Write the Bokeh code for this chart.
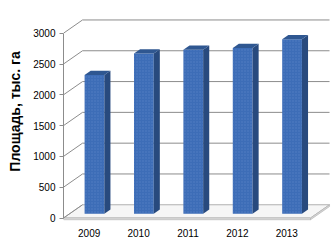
from bokeh.plotting import figure
from bokeh.models import Range1d, FixedTicker
from bokeh.embed import file_html
from bokeh.resources import INLINE

# ---- data ----
years = [2009, 2010, 2011, 2012, 2013]
area = [2250, 2600, 2660, 2690, 2830]
y_ticks = [0, 500, 1000, 1500, 2000, 2500, 3000]
y_label = "Площадь, тыс. га"

# ---- 3D geometry (in data units) ----
n = len(years)
DX = 0.385          # depth shift along x (category units)
DY = 215            # depth shift along y (value units)
BAR_W = 0.40        # bar width
D0, D1 = 0.33, 0.65  # bar depth start/end as fraction of floor depth

p = figure(width=335, height=249, output_backend="svg", toolbar_location=None,
           x_range=Range1d(0, 5.506), y_range=Range1d(-73, 3531),
           min_border_left=63, min_border_right=0, min_border_top=0,
           min_border_bottom=27)
p.outline_line_color = None
p.grid.visible = False
p.background_fill_color = "white"
p.border_fill_color = "white"

grid_col = "#8c8c8c"

# floor
p.patch([0, n, n + DX, DX], [0, 0, DY, DY], fill_color="#f6f6f6",
        line_color="#b0b0b0", line_width=1)
p.quad(left=[0], right=[n], bottom=[-28], top=[0], fill_color="#e2e2e2",
       line_color="#b4b4b4", line_width=0.7)
p.patch([n, n + DX, n + DX, n], [0, DY, DY - 28, -28], fill_color="#d8d8d8",
        line_color="#b4b4b4", line_width=0.7)

# back wall grid lines + left wall diagonals
for t in y_ticks:
    if t > 0:
        p.line([DX, n + DX], [t + DY, t + DY], line_color=grid_col, line_width=1)
    p.line([0, DX], [t, t + DY], line_color=grid_col, line_width=1)

# bars
front_col = "#3d6db7"
side_col = "#284a7e"
top_col = "#2f5791"
for i, v in enumerate(area):
    c = i + 0.5
    xl = c - BAR_W / 2 + D0 * DX
    xr = c + BAR_W / 2 + D0 * DX
    yb = D0 * DY
    yt = v + D0 * DY
    ddx = (D1 - D0) * DX
    ddy = (D1 - D0) * DY
    p.quad(left=[xl], right=[xr], bottom=[yb], top=[yt], fill_color=front_col,
           line_color=None, hatch_pattern="dot", hatch_color="#6b93d2",
           hatch_scale=3, hatch_weight=0.5, hatch_alpha=0.45)
    p.patch([xr, xr + ddx, xr + ddx, xr], [yb, yb + ddy, yt + ddy, yt],
            fill_color=side_col, line_color=None)
    p.patch([xl, xr, xr + ddx, xl + ddx], [yt, yt, yt + ddy, yt + ddy],
            fill_color=top_col, line_color=None)

# y axis
ya = p.yaxis[0]
ya.bounds = (0, 3000)
ya.ticker = FixedTicker(ticks=y_ticks)
ya.minor_tick_line_color = None
ya.major_tick_in = 0
ya.major_tick_out = 4
ya.axis_line_color = grid_col
ya.major_tick_line_color = grid_col
ya.major_label_text_font = "Liberation Sans"
ya.major_label_text_font_size = "10px"
ya.major_label_text_color = "black"
ya.major_label_standoff = 4
ya.axis_label = y_label
ya.axis_label_text_font = "Liberation Sans"
ya.axis_label_text_font_size = "14px"
ya.axis_label_text_font_style = "bold"
ya.axis_label_text_color = "black"
ya.axis_label_standoff = 7

# x axis
xa = p.xaxis[0]
pos = [i + 0.52 for i in range(n)]
xa.ticker = FixedTicker(ticks=pos)
xa.major_label_overrides = {pv: str(y) for pv, y in zip(pos, years)}
xa.axis_line_color = None
xa.major_tick_line_color = None
xa.minor_tick_line_color = None
xa.major_tick_out = 0
xa.major_tick_in = 0
xa.major_label_standoff = 6
xa.major_label_text_font = "Liberation Sans"
xa.major_label_text_font_size = "10px"
xa.major_label_text_color = "black"

open("out.html", "w").write(file_html(p, INLINE))
